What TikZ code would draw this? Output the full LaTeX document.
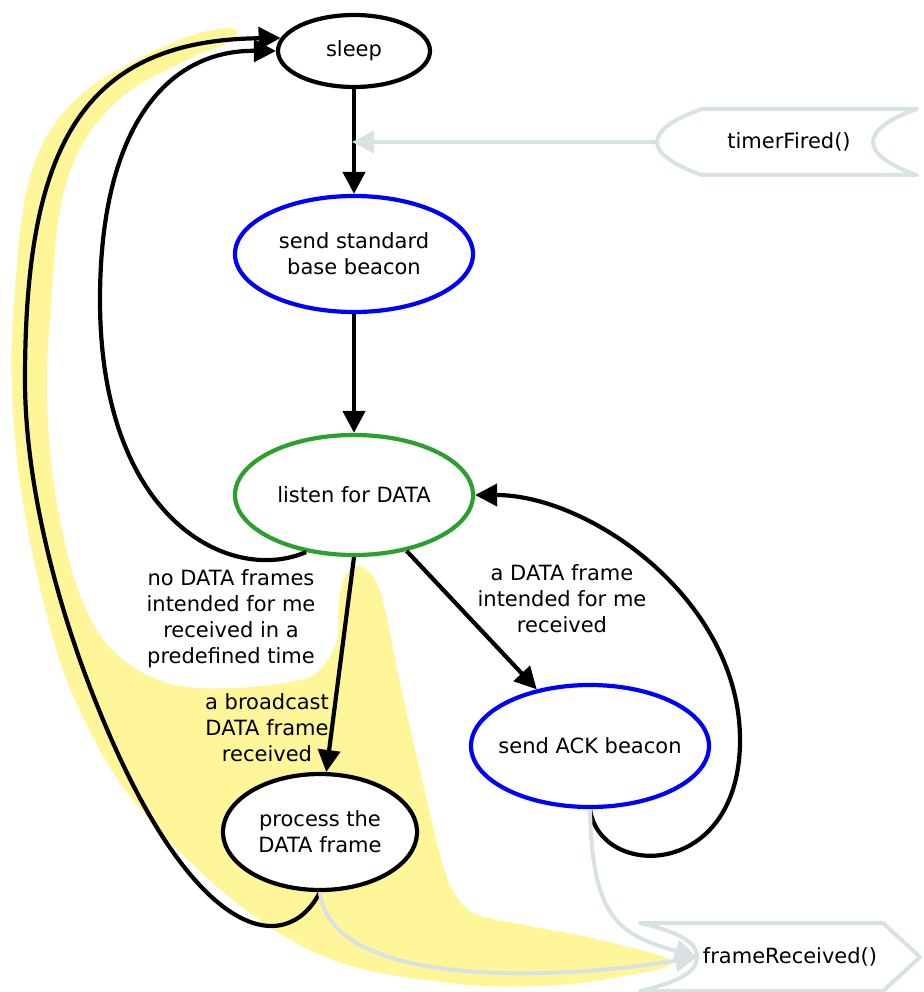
\documentclass[tikz,border=0pt]{standalone}
\usepackage{fontspec}
\setmainfont{DejaVu Sans}
\usetikzlibrary{shapes.geometric,arrows.meta}
\definecolor{stateblue}{RGB}{0,0,255}
\definecolor{stategreen}{RGB}{44,160,44}
\definecolor{eventgray}{RGB}{216,226,226}
\definecolor{pathyellow}{RGB}{255,246,153}

\begin{document}
\begin{tikzpicture}[x=1pt,y=-1pt,
  every node/.style={font=\fontsize{21pt}{26pt}\selectfont, align=center},
  state/.style={ellipse, draw=black, fill=white, line width=4.2pt, inner sep=-25pt},
  trans/.style={draw=black, line width=4.2pt, -{Triangle[length=22pt,width=22pt]}},
  evtline/.style={draw=eventgray, line width=4pt, -{Triangle[length=22pt,width=22pt]}},
  evtshape/.style={draw=eventgray, line width=4pt, line join=round},
  lbl/.style={inner sep=0pt}
]
\useasboundingbox (0,0) rectangle (923,992);

% highlighted execution path
\fill[pathyellow] plot[smooth cycle, tension=0.6] coordinates {
  (228,28) (190,36) (140,58) (83,93) (43,143) (23,210) (13,320) (12,390)
  (20,483) (43,600) (75,700) (133,800) (233,900) (333,960) (450,983)
  (540,986) (613,978) (672,962) (600,940) (530,926) (478,915) (457,897)
  (442,862) (420,770) (400,683) (384,605) (372,575) (358,566) (346,574)
  (339,600) (337,640) (322,667) (300,680) (233,688) (167,683) (112,650)
  (80,595) (60,520) (50,450) (47,383) (50,320) (60,210) (83,143)
  (127,93) (187,60) (225,44) (237,34)
};

% states
\node[state, minimum width=152pt, minimum height=72pt] (sleep) at (354,51) {sleep};
\node[state, draw=stateblue, minimum width=238pt, minimum height=116pt] (std) at (354,254) {send standard\\base beacon};
\node[state, draw=stategreen, minimum width=238pt, minimum height=120pt] (listen) at (354,495) {listen for DATA};
\node[state, draw=stateblue, minimum width=238pt, minimum height=122pt] (ack) at (590,746) {send ACK beacon};
\node[state, minimum width=194pt, minimum height=116pt] (proc) at (320,832) {process the\\DATA frame};

% events
\node (tf) at (789,142) {timerFired()};
\draw[evtshape] (702,109) -- (917,109)
  .. controls (885,120) and (873,132) .. (873,142)
  .. controls (873,152) and (885,164) .. (917,175)
  -- (702,175)
  .. controls (670,164) and (657,152) .. (657,142)
  .. controls (657,132) and (670,120) .. (702,109) -- cycle;
\coordinate (tfout) at (657,142);
\coordinate (tfin) at (352,142);

\node (fr) at (790,957) {frameReceived()};
\draw[evtshape] (640,923) -- (883,923) -- (920,957) -- (883,991) -- (640,991)
  .. controls (688,980) and (697,968) .. (697,957)
  .. controls (697,946) and (688,934) .. (640,923) -- cycle;
\coordinate (frin) at (697,957);

% transitions
\draw[trans] (sleep) -- (std);
\draw[trans] (std) -- (listen);
\draw[trans] (listen.230) .. controls (230,585) and (100,520) .. (100,300)
  .. controls (100,130) and (165,50) .. (sleep.west);
\draw[trans] (proc.south) .. controls (285,960) and (190,940) .. (95,700)
  .. controls (55,600) and (25,480) .. (25,380)
  .. controls (25,150) and (80,40) .. (sleep.170);
\draw[trans] (listen.south) -- (proc.84);
\draw[trans] (listen) -- (ack);
\draw[trans] (ack.south) .. controls (600,880) and (740,880) .. (740,740)
  .. controls (740,600) and (590,495) .. (listen.east);

% event arrows
\draw[evtline] (tfout) -- (tfin);
\draw[evtline] (ack.south) .. controls (592,920) and (620,935) .. (frin);
\draw[evtline] (proc.south) .. controls (330,990) and (560,980) .. (frin);

% transition labels
\node[lbl] (l1) at (231,619) {no DATA frames\\intended for me\\received in a\\predefined time};
\node[lbl] (l2) at (267,728) {a broadcast\\DATA frame\\received};
\node[lbl] (l3) at (562,599) {a DATA frame\\intended for me\\received};
\end{tikzpicture}
\end{document}
